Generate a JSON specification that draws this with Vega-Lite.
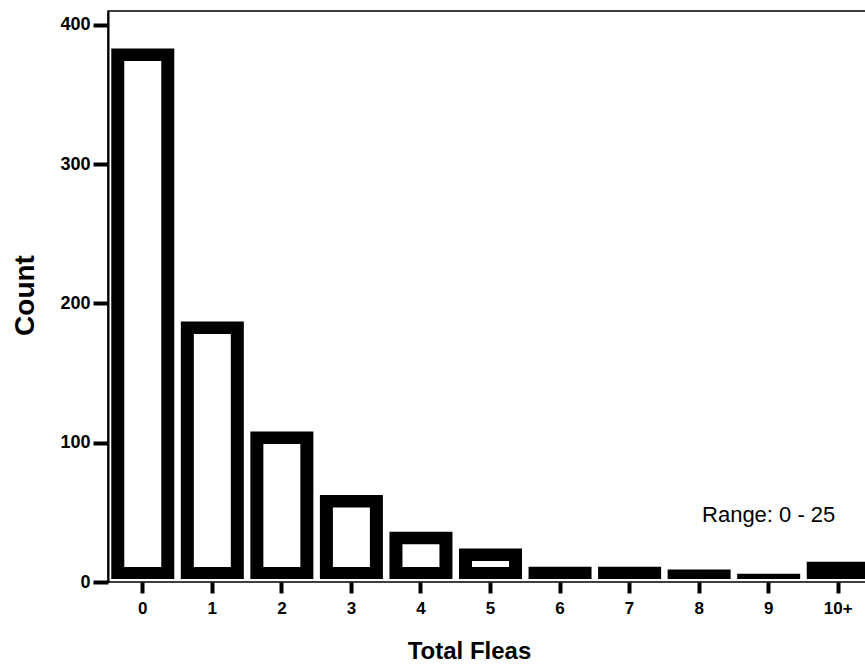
{
  "$schema": "https://vega.github.io/schema/vega-lite/v6.json",
  "autosize": {"type": "none"},
  "padding": {"left": 108, "top": 11, "right": 0, "bottom": 85},
  "width": 765,
  "height": 571,
  "background": "white",
  "config": {
    "font": "Liberation Sans",
    "view": {"stroke": "black", "strokeWidth": 1.5}
  },
  "data": {
    "values": [
      {"fleas": "0", "count": 383},
      {"fleas": "1", "count": 187},
      {"fleas": "2", "count": 108},
      {"fleas": "3", "count": 62.5},
      {"fleas": "4", "count": 36},
      {"fleas": "5", "count": 24},
      {"fleas": "6", "count": 11},
      {"fleas": "7", "count": 11},
      {"fleas": "8", "count": 9},
      {"fleas": "9", "count": 6},
      {"fleas": "10+", "count": 14.5}
    ]
  },
  "layer": [
    {
      "mark": {"type": "bar", "color": "black", "y2Offset": -3},
      "encoding": {
        "x": {
          "field": "fleas",
          "type": "ordinal",
          "sort": null,
          "scale": {"paddingInner": 0.094, "paddingOuter": 0.047},
          "axis": {
            "title": "Total Fleas",
            "titleFontSize": 24,
            "titleFontWeight": "bold",
            "titleColor": "black",
            "titleX": 361,
            "titleY": 76,
            "titleBaseline": "alphabetic",
            "labelAngle": 0,
            "labelFontSize": 17,
            "labelFontWeight": "bold",
            "labelColor": "black",
            "labelPadding": 7,
            "tickSize": 11,
            "tickWidth": 4,
            "tickColor": "black",
            "domain": false
          }
        },
        "y": {
          "field": "count",
          "type": "quantitative",
          "scale": {"domain": [0, 410], "nice": false},
          "axis": {
            "values": [0, 100, 200, 300, 400],
            "grid": false,
            "domain": true,
            "domainColor": "black",
            "domainWidth": 2,
            "tickSize": 15,
            "tickWidth": 4,
            "tickColor": "black",
            "labelFontSize": 18,
            "labelFontWeight": "bold",
            "labelColor": "black",
            "labelPadding": 3,
            "title": "Count",
            "titleFontSize": 28,
            "titleFontWeight": "bold",
            "titleColor": "black",
            "titleX": -75,
            "titleY": 284,
            "titleAlign": "center",
            "titleBaseline": "alphabetic"
          }
        },
        "y2": {"datum": 0}
      }
    },
    {
      "transform": [{"filter": "datum.count >= 20"}],
      "mark": {"type": "bar", "color": "white", "width": {"band": 0.587}, "yOffset": 12.5, "y2Offset": -15},
      "encoding": {
        "x": {"field": "fleas", "type": "ordinal", "sort": null},
        "y": {"field": "count", "type": "quantitative"},
        "y2": {"datum": 0}
      }
    },
    {
      "data": {"values": [{"label": "Range: 0 - 25", "fleas": "9", "count": 43}]},
      "mark": {"type": "text", "fontSize": 22, "baseline": "alphabetic", "align": "center", "color": "black"},
      "encoding": {
        "x": {"field": "fleas", "type": "ordinal", "sort": null},
        "y": {"field": "count", "type": "quantitative"},
        "text": {"field": "label"}
      }
    }
  ]
}
